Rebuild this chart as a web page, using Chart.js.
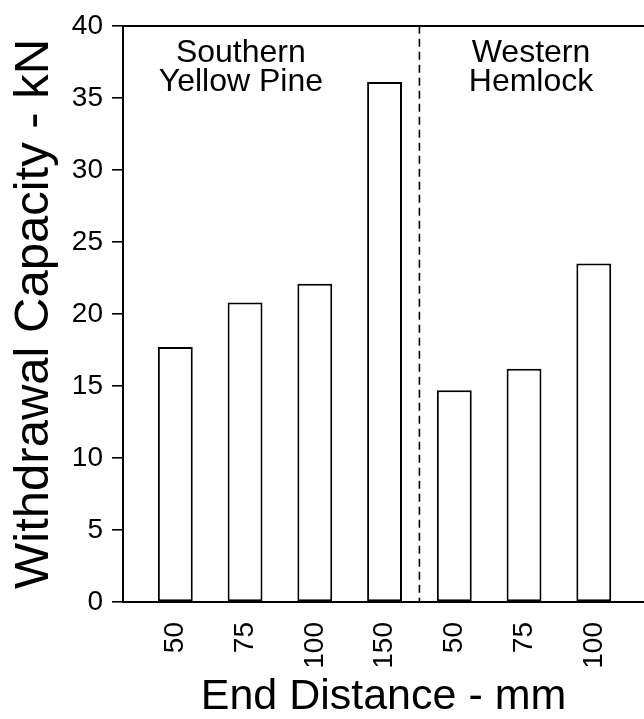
<!DOCTYPE html>
<html>
<head>
<meta charset="utf-8">
<script src="https://cdn.jsdelivr.net/npm/chart.js@4"></script>
<style>
  html, body { margin: 0; padding: 0; background: #fff; }
  #wrap { width: 644px; height: 719px; }
</style>
</head>
<body>
<div id="wrap"><canvas id="capChart" width="644" height="719"></canvas></div>
<script>
// values
var distances = ['50', '75', '100', '150', '50', '75', '100'];
var capacity = [17.7, 20.8, 22.1, 36.1, 14.7, 16.2, 23.5];
var speciesLabels = [['Southern', 'Yellow Pine'], ['Western', 'Hemlock']];
var speciesCounts = [4, 3];

var FONT = "'Liberation Sans', Arial, sans-serif";

// bar i sits at x = i + 1, species divider halfway between groups
var points = capacity.map(function (v, i) { return { x: i + 1, y: v }; });
var dividerAt = speciesCounts[0] + 0.5;

var speciesPlugin = {
    id: 'species',
    afterDraw: function (chart) {
        var ctx = chart.ctx;
        var xs = chart.scales.x;
        var area = chart.chartArea;
        var px = xs.getPixelForValue(dividerAt);
        ctx.save();
        ctx.strokeStyle = '#000';
        ctx.lineWidth = 1.6;
        ctx.setLineDash([8, 5]);
        ctx.beginPath();
        ctx.moveTo(px, area.top);
        ctx.lineTo(px, area.bottom);
        ctx.stroke();
        ctx.setLineDash([]);

        ctx.fillStyle = '#000';
        ctx.font = '32px ' + FONT;
        ctx.textAlign = 'center';
        ctx.textBaseline = 'alphabetic';
        var centers = [1.94, 6.1];
        speciesLabels.forEach(function (lines, g) {
            var cx = xs.getPixelForValue(centers[g]);
            lines.forEach(function (txt, k) {
                ctx.fillText(txt, cx, area.top + 36 + k * 29);
            });
        });
        ctx.restore();
    }
};

function noSidePad(scale) {
    scale.paddingLeft = 0;
    scale.paddingRight = 0;
}

var ctx = document.getElementById('capChart').getContext('2d');
var chart = new Chart(ctx, {
    type: 'bar',
    data: {
        datasets: [{
            data: points,
            backgroundColor: '#fff',
            borderColor: '#000',
            borderWidth: 2,
            borderSkipped: false,
            barPercentage: 0.5,
            categoryPercentage: 1
        }]
    },
    options: {
        responsive: false,
        animation: false,
        layout: { padding: { top: 19, right: 0, bottom: 0, left: 0 } },
        plugins: { legend: { display: false }, tooltip: { enabled: false } },
        scales: {
            x: {
                type: 'linear',
                offset: false,
                min: 0.25,
                max: 7.72,
                afterBuildTicks: function (scale) {
                    scale.ticks = distances.map(function (d, i) { return { value: i + 1 }; });
                },
                afterFit: function (scale) { scale.height = 117; noSidePad(scale); },
                grid: { display: false, drawTicks: false },
                border: { display: true, color: '#000', width: 2 },
                ticks: {
                    color: '#000',
                    font: { family: FONT, size: 28 },
                    minRotation: 90,
                    maxRotation: 90,
                    padding: 20,
                    autoSkip: false,
                    callback: function (value) { return distances[value - 1]; }
                },
                title: {
                    display: true,
                    text: 'End Distance - mm',
                    color: '#000',
                    font: { family: FONT, size: 43, lineHeight: 1 },
                    padding: { top: 0, bottom: 0 }
                }
            },
            top: {
                type: 'linear',
                position: 'top',
                offset: false,
                min: 0.25,
                max: 7.72,
                afterFit: function (scale) { scale.height = 0; noSidePad(scale); },
                grid: { display: false, drawTicks: false },
                ticks: { display: false },
                border: { display: true, color: '#000', width: 2 }
            },
            y: {
                min: 0,
                max: 40,
                afterFit: function (scale) { scale.width = 123; },
                ticks: {
                    stepSize: 5,
                    color: '#000',
                    font: { family: FONT, size: 28 },
                    padding: 9
                },
                grid: {
                    drawOnChartArea: false,
                    drawTicks: true,
                    tickLength: 11,
                    color: '#000',
                    lineWidth: 1.6
                },
                border: { display: true, color: '#000', width: 2 },
                title: {
                    display: true,
                    text: 'Withdrawal Capacity - kN',
                    color: '#000',
                    font: { family: FONT, size: 49, lineHeight: 1 },
                    padding: { top: 10, bottom: 0 }
                }
            }
        }
    },
    plugins: [speciesPlugin]
});
</script>
</body>
</html>
